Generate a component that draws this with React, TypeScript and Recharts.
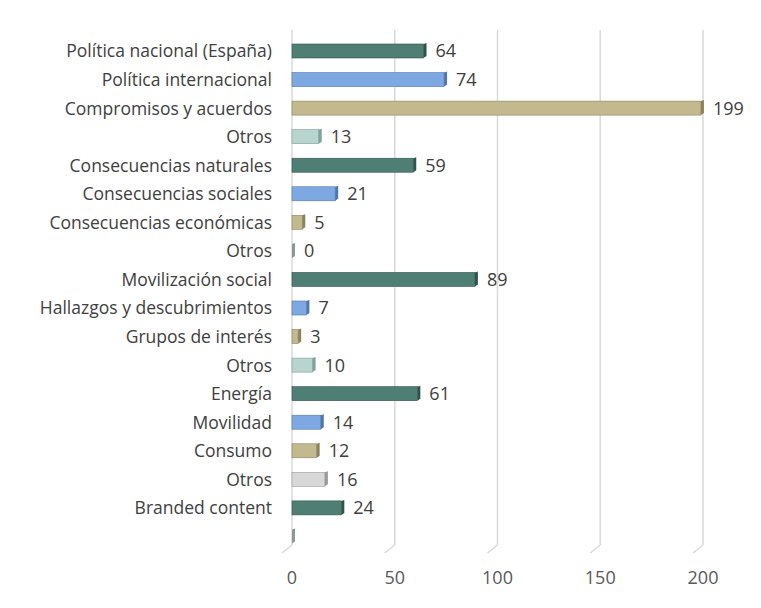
import { BarChart, Bar, XAxis, YAxis, CartesianGrid, LabelList, Cell } from "recharts";

const categories = [
  "Política nacional (España)",
  "Política internacional",
  "Compromisos y acuerdos",
  "Otros",
  "Consecuencias naturales",
  "Consecuencias sociales",
  "Consecuencias económicas",
  "Otros",
  "Movilización social",
  "Hallazgos y descubrimientos",
  "Grupos de interés",
  "Otros",
  "Energía",
  "Movilidad",
  "Consumo",
  "Otros",
  "Branded content",
  "",
];

const values = [64, 74, 199, 13, 59, 21, 5, 0, 89, 7, 3, 10, 61, 14, 12, 16, 24, 0];

const barColors = [
  "#4f7f74", "#7ea8e2", "#c3b98f", "#b7d4cf",
  "#4f7f74", "#7ea8e2", "#c3b98f", "#c9cfcd",
  "#4f7f74", "#7ea8e2", "#c3b98f", "#b7d4cf",
  "#4f7f74", "#7ea8e2", "#c3b98f", "#d8d8d8",
  "#4f7f74", "#c9cfcd",
];

const sideColors = [
  "#2f544b", "#4f76ad", "#8c825c", "#7fa09b",
  "#2f544b", "#4f76ad", "#8c825c", "#8d9694",
  "#2f544b", "#4f76ad", "#8c825c", "#7fa09b",
  "#2f544b", "#4f76ad", "#8c825c", "#9a9a9a",
  "#2f544b", "#8d9694",
];

const xTicks = [0, 50, 100, 150, 200];

const data = categories.map((name, i) => ({
  name,
  value: values[i],
  label: name === "" ? "" : String(values[i]),
  idx: i,
}));

const Bar3D = (props: any) => {
  const { x, y, width, height, payload } = props;
  const i = payload.idx;
  const w = Math.max(width, 0);
  const d = 3;
  return (
    <g>
      <rect x={x} y={y} width={w} height={height} fill={barColors[i]} stroke={sideColors[i]} strokeWidth={0.6} />
      <polygon
        points={`${x + w},${y} ${x + w + d},${y - 1} ${x + w + d},${y + height - 2} ${x + w},${y + height}`}
        fill={sideColors[i]}
      />
    </g>
  );
};

// gridline with the little 3D "floor" stroke at the bottom
const GridLine = (p: any) => (
  <g key={p.key}>
    <line x1={p.x1} y1={p.y1 - 7} x2={p.x2} y2={p.y2 - 6} stroke="#d9d9d9" strokeWidth={1.5} />
    <line x1={p.x1} y1={p.y2 - 6} x2={p.x1 - 10} y2={p.y2 + 2} stroke="#d9d9d9" strokeWidth={1.5} />
  </g>
);

export default function App() {
  return (
    <div style={{ position: "absolute", left: 0, top: 0, background: "#fff" }}>
      <BarChart
        width={761}
        height={608}
        data={data}
        layout="vertical"
        margin={{ top: 37, right: 58, bottom: 27, left: 0 }}
        barCategoryGap={7}
      >
        <CartesianGrid horizontal={false} vertical={GridLine} />
        <XAxis
          type="number"
          domain={[0, 200]}
          ticks={xTicks}
          axisLine={false}
          tickLine={false}
          tickMargin={14}
          height={30}
          tick={{ fill: "#595959", fontSize: 18, fontFamily: "Open Sans" }}
        />
        <YAxis
          type="category"
          dataKey="name"
          width={292}
          axisLine={false}
          tickLine={false}
          tickMargin={14}
          interval={0}
          tick={{ fill: "#404040", fontSize: 17.5, fontFamily: "Open Sans" }}
        />
        <Bar dataKey="value" barSize={14} shape={Bar3D} isAnimationActive={false}>
          {data.map((d, i) => (
            <Cell key={i} fill={barColors[i]} />
          ))}
          <LabelList
            dataKey="label"
            position="right"
            offset={12}
            fill="#404040"
            fontSize={18}
            fontFamily="Open Sans"
          />
        </Bar>
      </BarChart>
    </div>
  );
}
